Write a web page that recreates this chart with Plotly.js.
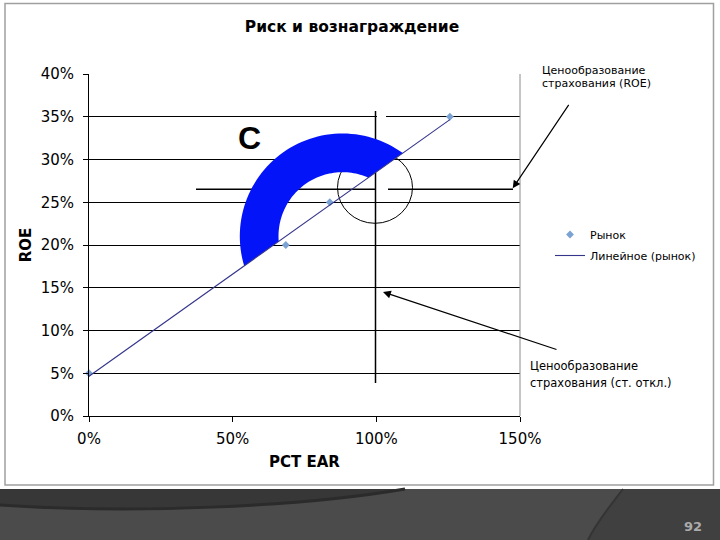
<!DOCTYPE html>
<html>
<head>
<meta charset="utf-8">
<script src="https://cdn.plot.ly/plotly-3.0.1.min.js"></script>
<style>
html,body{margin:0;padding:0;background:#ffffff;}
#chart{width:720px;height:540px;}
</style>
</head>
<body>
<div id="chart"></div>
<script>
// ---------------- data ----------------
const chartTitle = 'Риск и вознаграждение';
const xTitle = 'PCT EAR';
const yTitle = 'ROE';
const xTickVals = [0, 0.5, 1.0, 1.5];
const xTickText = ['0%', '50%', '100%', '150%'];
const yTickVals = [0, 0.05, 0.10, 0.15, 0.20, 0.25, 0.30, 0.35, 0.40];
const yTickText = ['0%', '5%', '10%', '15%', '20%', '25%', '30%', '35%', '40%'];
const marketName = 'Рынок';
const trendName = 'Линейное (рынок)';
const marketX = [0, 0.685, 0.838, 1.256];
const marketY = [0.05, 0.20, 0.25, 0.35];
const noteRoe = ['Ценообразование', 'страхования (ROE)'];
const noteStd = ['Ценообразование', 'страхования (ст. откл.)'];
const regionLabel = 'C';
const pageNumber = '92';

// ---------------- geometry helpers ----------------
const W = 720, H = 540, L = 89, R = 200, T = 74, B = 124;
const PW = W - L - R, PH = H - T - B;
const XMAX = 1.5, YMAX = 0.4;
const dx = px => (px - L) / PW * XMAX;      // pixel -> data x
const dy = py => (T + PH - py) / PH * YMAX; // pixel -> data y
const pxOf = x => L + x / XMAX * PW;
const pyOf = y => T + PH - y / YMAX * PH;
const ppx = px => (px - L) / PW;            // pixel -> paper x
const ppy = py => (T + PH - py) / PH;       // pixel -> paper y

// linear trend (least squares) of the market series
const n = marketX.length;
const mx = marketX.reduce((a, b) => a + b, 0) / n;
const my = marketY.reduce((a, b) => a + b, 0) / n;
let sxy = 0, sxx = 0;
for (let i = 0; i < n; i++) { sxy += (marketX[i] - mx) * (marketY[i] - my); sxx += (marketX[i] - mx) ** 2; }
const slope = sxy / sxx, intercept = my - slope * mx;
const trendX = [Math.min(...marketX), Math.max(...marketX)];
const trendY = trendX.map(x => intercept + slope * x);

// blue block arc, cut by the trend line
function blockArcPath(cx, cy, rOut, rIn) {
  const ax = pxOf(trendX[0]), ay = pyOf(trendY[0]);
  const bx = pxOf(trendX[1]), by = pyOf(trendY[1]);
  const len = Math.hypot(bx - ax, by - ay);
  const ux = (bx - ax) / len, uy = (by - ay) / len;
  function cuts(rho) {
    const wx = ax - cx, wy = ay - cy;
    const wu = wx * ux + wy * uy;
    const disc = Math.sqrt(wu * wu - (wx * wx + wy * wy) + rho * rho);
    const pts = [-wu + disc, -wu - disc].map(t => [ax + t * ux, ay + t * uy]);
    pts.sort((p, q) => q[0] - p[0]); // right first
    const ang = pts.map(p => Math.atan2(cy - p[1], p[0] - cx));
    let a0 = ang[0], a1 = ang[1];
    while (a1 < a0) a1 += 2 * Math.PI;
    return [a0, a1];
  }
  const [o0, o1] = cuts(rOut);
  const [i0, i1] = cuts(rIn);
  const pts = [];
  const N = 60;
  for (let k = 0; k <= N; k++) { const a = o0 + (o1 - o0) * k / N; pts.push([cx + rOut * Math.cos(a), cy - rOut * Math.sin(a)]); }
  for (let k = 0; k <= N; k++) { const a = i1 - (i1 - i0) * k / N; pts.push([cx + rIn * Math.cos(a), cy - rIn * Math.sin(a)]); }
  return pts.map((p, k) => (k ? 'L' : 'M') + dx(p[0]).toFixed(5) + ',' + dy(p[1]).toFixed(5)).join(' ') + ' Z';
}

function paperPath(cmds) {
  return cmds.map(c => {
    const out = [c[0]];
    for (let i = 1; i < c.length; i += 2) out.push(ppx(c[i]).toFixed(5) + ',' + ppy(c[i + 1]).toFixed(5));
    return out.join(' ');
  }).join(' ');
}

// ---------------- traces ----------------
const traces = [
  {
    x: marketX, y: marketY, type: 'scatter', mode: 'markers', name: marketName,
    marker: { symbol: 'diamond', size: 6, color: '#7aa3d4' },
    cliponaxis: false, legendgroup: 'a'
  },
  {
    x: trendX, y: trendY, type: 'scatter', mode: 'lines', name: trendName,
    line: { color: '#35358c', width: 1.1 }, legendgroup: 'b'
  }
];

// ---------------- shapes ----------------
const shapes = [
  // outer frame
  { type: 'rect', xref: 'paper', yref: 'paper', x0: ppx(5), x1: ppx(713.5), y0: ppy(485), y1: ppy(3.5),
    line: { color: '#a0a0a0', width: 1.5 }, layer: 'below' },
  // right border of plot area
  { type: 'line', xref: 'paper', yref: 'paper', x0: 1, x1: 1, y0: 0, y1: 1, line: { color: '#8c8c8c', width: 1 } },
  // dark footer band
  { type: 'rect', xref: 'paper', yref: 'paper', x0: ppx(0), x1: ppx(720), y0: ppy(540), y1: ppy(489),
    fillcolor: '#404040', line: { width: 0 } },
  { type: 'path', xref: 'paper', yref: 'paper', fillcolor: '#373737', line: { width: 0 },
    path: paperPath([['M', 0, 489], ['L', 405, 489], ['C', 300, 507, 130, 514, 0, 505], ['Z']]) },
  { type: 'path', xref: 'paper', yref: 'paper', fillcolor: '#4b4b4b', line: { width: 0 },
    path: paperPath([['M', 0, 505], ['C', 130, 514, 300, 507, 405, 489], ['L', 623, 489],
                     ['C', 610, 506, 596, 523, 588, 540], ['L', 0, 540], ['Z']]) },
  { type: 'path', xref: 'paper', yref: 'paper', line: { color: '#2b2b2b', width: 3 },
    path: paperPath([['M', 0, 505], ['C', 130, 514, 300, 507, 405, 489]]) },
  { type: 'path', xref: 'paper', yref: 'paper', line: { color: '#343434', width: 2 },
    path: paperPath([['M', 623, 489], ['C', 610, 506, 596, 523, 588, 540]]) },
  // guide lines in the plot
  { type: 'line', xref: 'x', yref: 'y', x0: dx(196), x1: dx(376), y0: dy(189.3), y1: dy(189.3),
    line: { color: '#000000', width: 1.5 }, layer: 'between' },
  { type: 'line', xref: 'x', yref: 'y', x0: dx(388), x1: dx(513), y0: dy(189.3), y1: dy(189.3),
    line: { color: '#000000', width: 1.5 }, layer: 'between' },
  { type: 'line', xref: 'x', yref: 'y', x0: dx(375.5), x1: dx(375.5), y0: dy(111), y1: dy(383),
    line: { color: '#000000', width: 1.5 }, layer: 'between' },
  { type: 'circle', xref: 'x', yref: 'y', x0: dx(337.5), x1: dx(412.5), y0: dy(223.3), y1: dy(151.7),
    line: { color: '#000000', width: 1 }, layer: 'between' },
  { type: 'path', xref: 'x', yref: 'y', path: blockArcPath(342.5, 236.2, 102.7, 64),
    fillcolor: '#0414f8', line: { width: 0 }, layer: 'between' },
  { type: 'line', xref: 'x', yref: 'y', x0: dx(377), x1: dx(394), y0: 0.35, y1: 0.35,
    line: { color: '#ffffff', width: 2, dash: 'dash' }, layer: 'between' }
];

// ---------------- annotations ----------------
const txtFont = { family: 'DejaVu Sans', color: '#000000' };
const annotations = [
  { xref: 'paper', yref: 'paper', x: ppx(540), y: ppy(70.7), xanchor: 'left', yanchor: 'middle', showarrow: false,
    text: noteRoe[0], font: Object.assign({ size: 11 }, txtFont) },
  { xref: 'paper', yref: 'paper', x: ppx(540), y: ppy(83.3), xanchor: 'left', yanchor: 'middle', showarrow: false,
    text: noteRoe[1], font: Object.assign({ size: 11 }, txtFont) },
  { xref: 'paper', yref: 'paper', x: ppx(528), y: ppy(365.7), xanchor: 'left', yanchor: 'middle', showarrow: false,
    text: noteStd[0], font: Object.assign({ size: 11.5 }, txtFont) },
  { xref: 'paper', yref: 'paper', x: ppx(528), y: ppy(382.7), xanchor: 'left', yanchor: 'middle', showarrow: false,
    text: noteStd[1], font: Object.assign({ size: 11.5 }, txtFont) },
  // arrows
  { xref: 'x', yref: 'y', x: dx(512.7), y: dy(188.3), ax: 57, ay: -85, text: '', showarrow: true,
    arrowhead: 2, arrowsize: 1.3, arrowwidth: 1.2, arrowcolor: '#000000', standoff: 0 },
  { xref: 'x', yref: 'y', x: dx(383), y: dy(292), ax: 175, ay: 58, text: '', showarrow: true,
    arrowhead: 2, arrowsize: 1.3, arrowwidth: 1.2, arrowcolor: '#000000', standoff: 0 },
  // region label
  { xref: 'paper', yref: 'paper', x: ppx(249), y: ppy(138), xanchor: 'center', yanchor: 'middle', showarrow: false,
    text: regionLabel, font: { family: 'Liberation Sans', size: 32, weight: 'bold', color: '#000000' } },
  // page number
  { xref: 'paper', yref: 'paper', x: ppx(693), y: ppy(526), xanchor: 'center', yanchor: 'middle', showarrow: false,
    text: pageNumber, font: { family: 'DejaVu Sans', size: 13, weight: 'bold', color: '#ababab' } }
];

const layout = {
  width: W, height: H,
  margin: { l: L, r: R, t: T, b: B },
  paper_bgcolor: '#ffffff', plot_bgcolor: '#ffffff',
  showlegend: true,
  title: { text: chartTitle, xref: 'paper', x: ppx(352), xanchor: 'center', yref: 'container', y: 1 - 27 / H, yanchor: 'middle',
    font: { family: 'DejaVu Sans', size: 15.5, weight: 'bold', color: '#000000' } },
  xaxis: {
    range: [0, XMAX], tickvals: xTickVals, ticktext: xTickText,
    showgrid: false, zeroline: false, showline: true, linecolor: '#000000', linewidth: 1,
    ticks: 'outside', ticklen: 5, tickcolor: '#000000', ticklabelstandoff: 4,
    tickfont: { family: 'DejaVu Sans', size: 15, color: '#000000' },
    title: { text: xTitle, standoff: 9, font: { family: 'DejaVu Sans', size: 15, weight: 'bold', color: '#000000' } },
    fixedrange: true
  },
  yaxis: {
    range: [0, YMAX], tickvals: yTickVals, ticktext: yTickText,
    showgrid: true, gridcolor: '#000000', gridwidth: 1, zeroline: false,
    showline: true, linecolor: '#000000', linewidth: 1,
    ticks: 'outside', ticklen: 5, tickcolor: '#000000', ticklabelstandoff: 6,
    tickfont: { family: 'DejaVu Sans', size: 15, color: '#000000' },
    title: { text: yTitle, standoff: 5, font: { family: 'DejaVu Sans', size: 15, weight: 'bold', color: '#000000' } },
    fixedrange: true
  },
  legend: {
    x: ppx(550), y: ppy(220), xanchor: 'left', yanchor: 'top',
    bgcolor: 'rgba(0,0,0,0)', borderwidth: 0, traceorder: 'grouped', tracegroupgap: 2,
    font: { family: 'DejaVu Sans', size: 11, color: '#000000' }
  },
  shapes: shapes,
  annotations: annotations
};

Plotly.newPlot('chart', traces, layout, { displayModeBar: false, staticPlot: true });
</script>
</body>
</html>
